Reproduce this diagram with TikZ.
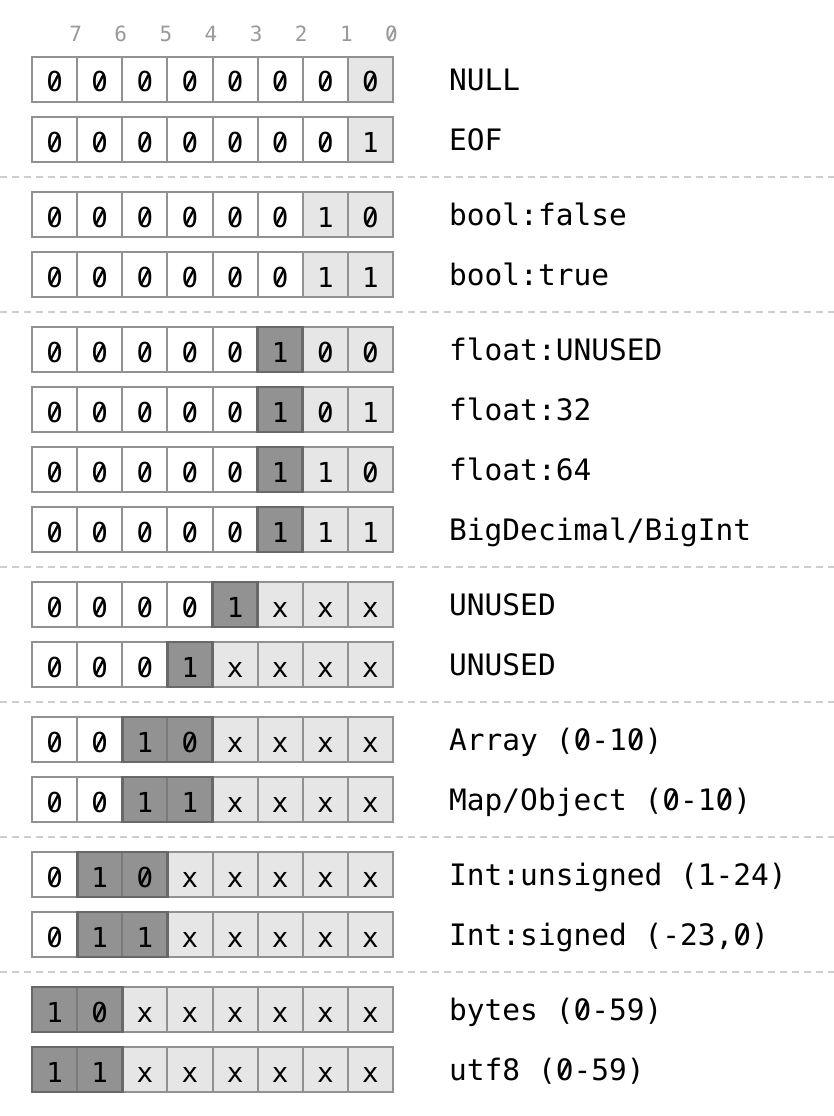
\documentclass[tikz,border=0pt]{standalone}
\usepackage{fontspec}
\setmonofont{DejaVu Sans Mono}
\definecolor{cellline}{HTML}{919191}
\definecolor{lightfill}{HTML}{E6E6E6}
\definecolor{darkfill}{HTML}{929292}
\definecolor{darkline}{HTML}{686868}
\definecolor{darkdiv}{HTML}{7A7A7A}
\definecolor{sepline}{HTML}{CDCDCD}
\definecolor{bitnum}{HTML}{999999}
\colorlet{bgW}{white}
\colorlet{bgL}{lightfill}
\colorlet{bgD}{darkfill}
\tikzset{
  cellbox/.style={rectangle, minimum width=45.125pt, minimum height=45pt, inner sep=0pt, outer sep=0pt,
    draw=cellline, line width=2pt, text height=25pt, text depth=0pt, font=\fontsize{27.5}{27.5}\selectfont\ttfamily},
  W/.style={cellbox, fill=white},
  L/.style={cellbox, fill=lightfill},
  D/.style={cellbox, fill=darkfill, draw=darkdiv},
  rowframe/.style={draw=cellline, line width=2.8pt},
  darkframe/.style={draw=darkline, line width=2.8pt},
  rowlabel/.style={anchor=base west, inner sep=0pt, font=\fontsize{29.5}{30}\selectfont\ttfamily},
  bitlabel/.style={anchor=base, inner sep=0pt, text=bitnum, font=\fontsize{21}{21}\selectfont\ttfamily},
  groupsep/.style={draw=sepline, line width=2pt, dash pattern=on 7pt off 5pt},
}
% slash through a zero glyph: #1 reference point, #2/#3 offset of glyph centre, #4 font size, #5 background, #6 ink
\newcommand\zslash[6]{%
  \fill[#5] ([shift={({#2-0.075*#4},{#3-0.13*#4})}]#1) rectangle ([shift={({#2+0.075*#4},{#3+0.13*#4})}]#1);
  \draw[#6, line width=#4*0.085pt] ([shift={({#2-0.13*#4},{#3+0.25*#4})}]#1) -- ([shift={({#2+0.13*#4},{#3-0.25*#4})}]#1);
}
% zero at character index #2 of the label of row #1
\newcommand\labzero[2]{\zslash{#1lab.base west}{(#2+0.5)*17.76}{-10.75}{29.5}{white}{black}}
\newcommand\bitrow[4]{%
  \foreach \s/\t [count=\k from 0] in {#3} {
    \node[\s] (#1c\k) at ({32+45.125*(\k+0.5)}, {#2+22.5}) {\t};
    \if\t0 \zslash{#1c\k.center}{0}{2.5}{27.5}{bg\s}{black}\fi
  }
  \draw[rowframe] (#1c0.north west) rectangle (#1c7.south east);
  \node[rowlabel] (#1lab) at (449, {#2+33.5}) {#4};
}
\begin{document}
\begin{tikzpicture}[x=1pt, y=-1pt]
\useasboundingbox (0,0) rectangle (834,1116);
% bit numbers
\foreach \b [count=\k from 0] in {7,6,5,4,3,2,1,0} {
  \node[bitlabel] (bit\b) at ({32+45.125*(\k+1)-1.5}, 42) {\b};
}
\zslash{bit0.base}{0}{-7.65}{21}{white}{bitnum}
% separators
\foreach \y [count=\n] in {177,312,567,702,837,972} {
  \coordinate (sepL\n) at (0,\y);
  \coordinate (sepR\n) at (834,\y);
  \draw[groupsep] (sepL\n) -- (sepR\n);
}
% rows
\bitrow{r0}{57}{W/0,W/0,W/0,W/0,W/0,W/0,W/0,L/0}{NULL}
\bitrow{r1}{117}{W/0,W/0,W/0,W/0,W/0,W/0,W/0,L/1}{EOF}
\bitrow{r2}{192}{W/0,W/0,W/0,W/0,W/0,W/0,L/1,L/0}{bool:false}
\bitrow{r3}{252}{W/0,W/0,W/0,W/0,W/0,W/0,L/1,L/1}{bool:true}
\bitrow{r4}{327}{W/0,W/0,W/0,W/0,W/0,D/1,L/0,L/0}{float:UNUSED}
\bitrow{r5}{387}{W/0,W/0,W/0,W/0,W/0,D/1,L/0,L/1}{float:32}
\bitrow{r6}{447}{W/0,W/0,W/0,W/0,W/0,D/1,L/1,L/0}{float:64}
\bitrow{r7}{507}{W/0,W/0,W/0,W/0,W/0,D/1,L/1,L/1}{BigDecimal/BigInt}
\bitrow{r8}{582}{W/0,W/0,W/0,W/0,D/1,L/x,L/x,L/x}{UNUSED}
\bitrow{r9}{642}{W/0,W/0,W/0,D/1,L/x,L/x,L/x,L/x}{UNUSED}
\bitrow{r10}{717}{W/0,W/0,D/1,D/0,L/x,L/x,L/x,L/x}{Array (0-10)}
\bitrow{r11}{777}{W/0,W/0,D/1,D/1,L/x,L/x,L/x,L/x}{Map/Object (0-10)}
\bitrow{r12}{852}{W/0,D/1,D/0,L/x,L/x,L/x,L/x,L/x}{Int:unsigned (1-24)}
\bitrow{r13}{912}{W/0,D/1,D/1,L/x,L/x,L/x,L/x,L/x}{Int:signed (-23,0)}
\bitrow{r14}{987}{D/1,D/0,L/x,L/x,L/x,L/x,L/x,L/x}{bytes (0-59)}
\bitrow{r15}{1047}{D/1,D/1,L/x,L/x,L/x,L/x,L/x,L/x}{utf8 (0-59)}
% slashed zeros in the labels
\labzero{r10}{7}\labzero{r10}{10}
\labzero{r11}{12}\labzero{r11}{15}
\labzero{r13}{16}
\labzero{r14}{7}
\labzero{r15}{6}
% dark group outlines
\draw[darkframe] (r4c5.north west) rectangle (r4c5.south east);
\draw[darkframe] (r5c5.north west) rectangle (r5c5.south east);
\draw[darkframe] (r6c5.north west) rectangle (r6c5.south east);
\draw[darkframe] (r7c5.north west) rectangle (r7c5.south east);
\draw[darkframe] (r8c4.north west) rectangle (r8c4.south east);
\draw[darkframe] (r9c3.north west) rectangle (r9c3.south east);
\draw[darkframe] (r10c2.north west) rectangle (r10c3.south east);
\draw[darkframe] (r11c2.north west) rectangle (r11c3.south east);
\draw[darkframe] (r12c1.north west) rectangle (r12c2.south east);
\draw[darkframe] (r13c1.north west) rectangle (r13c2.south east);
\draw[darkframe] (r14c0.north west) rectangle (r14c1.south east);
\draw[darkframe] (r15c0.north west) rectangle (r15c1.south east);
\end{tikzpicture}
\end{document}
